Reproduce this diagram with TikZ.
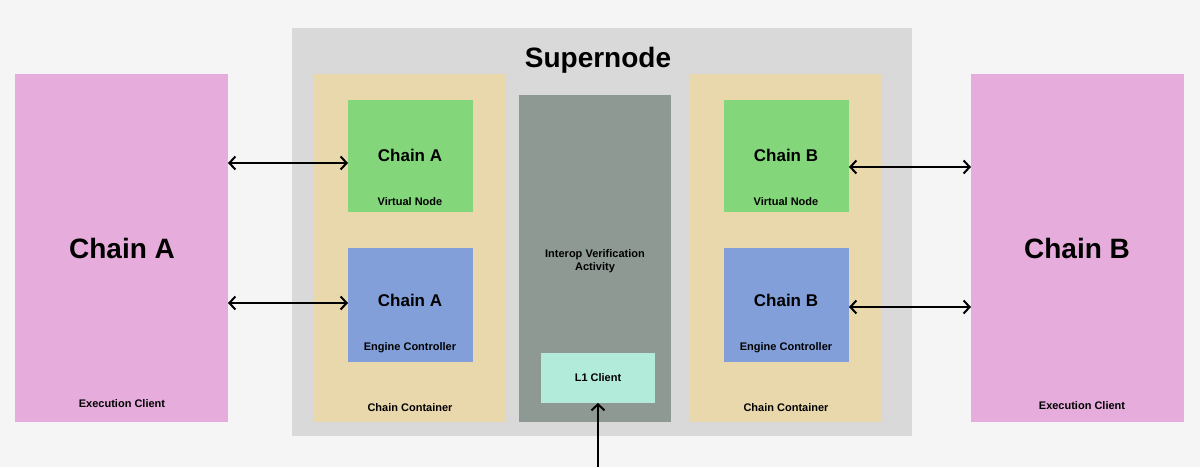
\documentclass[tikz,border=0pt]{standalone}
\usepackage{fontspec}
\setmainfont{Liberation Sans}
\usetikzlibrary{positioning, arrows.meta}
\definecolor{bgc}{HTML}{F5F5F5}
\definecolor{pinkc}{HTML}{E6ACDC}
\definecolor{superc}{HTML}{D9D9D9}
\definecolor{beigec}{HTML}{EAD8AD}
\definecolor{greenc}{HTML}{84D67B}
\definecolor{bluec}{HTML}{829FD9}
\definecolor{darkc}{HTML}{8E9994}
\definecolor{mintc}{HTML}{B3EBDB}

\begin{document}
\begin{tikzpicture}[
        x=1pt, y=-1pt,
        box/.style={inner sep=0pt, outer sep=0pt, anchor=north west},
        lbl/.style={font=\bfseries\fontsize{11}{13}\selectfont, align=center},
        big/.style={font=\bfseries\fontsize{28}{32}\selectfont},
        mid/.style={font=\bfseries\fontsize{17}{20}\selectfont},
        link/.style={line width=2pt, {Straight Barb[length=6pt,width=13pt]}-{Straight Barb[length=6pt,width=13pt]}}
      ]
        \fill[bgc] (0,0) rectangle (1200,467);
        % outer chains
        \node[box, fill=pinkc, minimum width=213pt, minimum height=348pt] (execA) at (15,74) {};
        \node[box, fill=pinkc, minimum width=213pt, minimum height=348pt] (execB) at (971,74) {};
        \node[big] at (122,248) {Chain A};
        \node[big] at (1077,248) {Chain B};
        \node[lbl] at (122,404) {Execution Client};
        \node[lbl] at (1082,406) {Execution Client};
        % supernode
        \node[box, fill=superc, minimum width=620pt, minimum height=408pt] (super) at (292,28) {};
        \node[big] at (598,60) {Supernode};
        % containers
        \node[box, fill=beigec, minimum width=192pt, minimum height=348pt] (contA) at (314,74) {};
        \node[box, fill=beigec, minimum width=192pt, minimum height=348pt] (contB) at (690,74) {};
        \node[lbl] at (410,408) {Chain Container};
        \node[lbl] at (786,408) {Chain Container};
        % virtual nodes
        \node[box, fill=greenc, minimum width=125pt, minimum height=112pt] (virtA) at (348,100) {};
        \node[box, fill=greenc, minimum width=125pt, minimum height=112pt] (virtB) at (724,100) {};
        \node[mid] at (410,155) {Chain A};
        \node[mid] at (786,155) {Chain B};
        \node[lbl] at (410,202) {Virtual Node};
        \node[lbl] at (786,202) {Virtual Node};
        % engine controllers
        \node[box, fill=bluec, minimum width=125pt, minimum height=114pt] (engA) at (348,248) {};
        \node[box, fill=bluec, minimum width=125pt, minimum height=114pt] (engB) at (724,248) {};
        \node[mid] at (410,300) {Chain A};
        \node[mid] at (786,300) {Chain B};
        \node[lbl] at (410,348) {Engine Controller};
        \node[lbl] at (786,348) {Engine Controller};
        % interop
        \node[box, fill=darkc, minimum width=152pt, minimum height=327pt] (interop) at (519,95) {};
        \node[lbl] at (595,261) {Interop Verification\\Activity};
        \node[box, fill=mintc, minimum width=114pt, minimum height=50pt] (l1) at (541,353) {};
        \node[lbl] at (598,378) {L1 Client};
        \coordinate (l1in) at (598,467);
        % links
        \draw[link] (execA.east |- 0,163) -- (virtA.west |- 0,163);
        \draw[link] (execA.east |- 0,303) -- (engA.west |- 0,303);
        \draw[link] (virtB.east |- 0,167) -- (execB.west |- 0,167);
        \draw[link] (engB.east |- 0,307) -- (execB.west |- 0,307);
        \draw[line width=2pt, -{Straight Barb[length=6pt,width=13pt]}] (l1in) -- (l1.south);
\end{tikzpicture}
\end{document}
